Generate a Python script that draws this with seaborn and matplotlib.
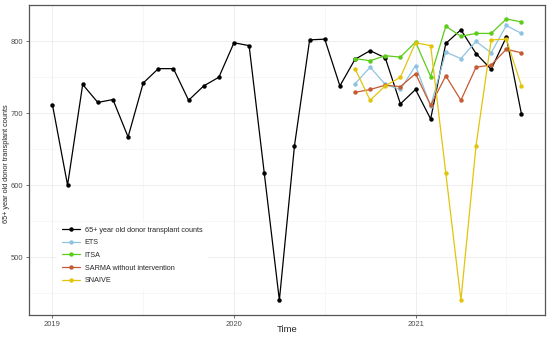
import numpy as np
import pandas as pd
import matplotlib.pyplot as plt
import seaborn as sns
from matplotlib.ticker import MultipleLocator

# monthly observations Jan 2019 - Aug 2021
obs_start = 2019.0
observed = [712, 600, 740, 715, 719, 667, 742, 762, 762, 718, 738, 750,
            798, 794, 617, 440, 655, 802, 803, 738, 775, 787, 777, 713,
            733, 692, 797, 816, 783, 761, 806, 699]

# forecasts Sep 2020 - Aug 2021
fc_start = 2020 + 8 / 12
ets = [741, 764, 740, 733, 766, 710, 785, 776, 800, 784, 822, 811]
itsa = [776, 773, 780, 778, 799, 751, 821, 807, 811, 811, 831, 827]
sarma = [729, 733, 739, 737, 755, 711, 752, 718, 764, 767, 789, 784]
snaive = [762, 718, 738, 750, 798, 794, 617, 440, 655, 802, 803, 738]

labels = ["65+ year old donor transplant counts", "ETS", "ITSA",
          "SARMA without intervention", "SNAIVE"]
colors = ["black", "#8fc4e0", "#5ccc1a", "#c65a32", "#e3c40c"]

rows = []
for i, v in enumerate(observed):
    rows.append({"Time": obs_start + i / 12, "value": v, "series": labels[0]})
for name, vals in zip(labels[1:], [ets, itsa, sarma, snaive]):
    for i, v in enumerate(vals):
        rows.append({"Time": fc_start + i / 12, "value": v, "series": name})
df = pd.DataFrame(rows)

sns.set_style("white")
plt.rcParams["font.family"] = ["Liberation Sans", "DejaVu Sans"]

fig = plt.figure(figsize=(5.5, 3.38), dpi=100)
ax = fig.add_axes([0.0527, 0.068, 0.938, 0.917])

ax = sns.lineplot(data=df, x="Time", y="value", hue="series", hue_order=labels,
                  palette=colors, marker="o", markersize=3.2, markeredgewidth=0,
                  linewidth=0.9, ax=ax)

ax.set_xlim(2019 - 1.55 / 12, 2019 + 32.55 / 12)
ax.set_ylim(419.4, 850.4)
ax.set_xticks([2019, 2020, 2021])
ax.set_xticklabels(["2019", "2020", "2021"])
ax.xaxis.set_minor_locator(MultipleLocator(0.5))
ax.yaxis.set_major_locator(MultipleLocator(100))
ax.yaxis.set_minor_locator(MultipleLocator(50))
ax.grid(which="major", color="#ebebeb", linewidth=0.6)
ax.grid(which="minor", color="#f2f2f2", linewidth=0.4)
ax.set_axisbelow(True)
ax.tick_params(axis="both", which="major", length=2.5, width=0.5, color="#333333",
               labelsize=5.5, labelcolor="#4d4d4d", pad=1.5, bottom=True, left=True)
ax.tick_params(which="minor", length=0)
for s in ax.spines.values():
    s.set_color("#555555")
    s.set_linewidth(0.9)

ax.set_xlabel("Time", fontsize=6.8)
ax.set_ylabel("65+ year old donor transplant counts", fontsize=5.3)
ax.xaxis.set_label_coords(0.5, -0.033)
ax.yaxis.set_label_coords(-0.036, 0.49)

leg = ax.legend(loc="lower left", bbox_to_anchor=(0.055, 0.085), frameon=True,
                fontsize=5.2, handlelength=2.6, handletextpad=0.6,
                labelspacing=0.78, borderpad=0.6, borderaxespad=0)
leg.get_frame().set_facecolor("white")
leg.get_frame().set_edgecolor("white")
leg.get_frame().set_alpha(1)
leg.get_frame().set_boxstyle("square", pad=0)

fig.savefig("out.png", dpi=100)
